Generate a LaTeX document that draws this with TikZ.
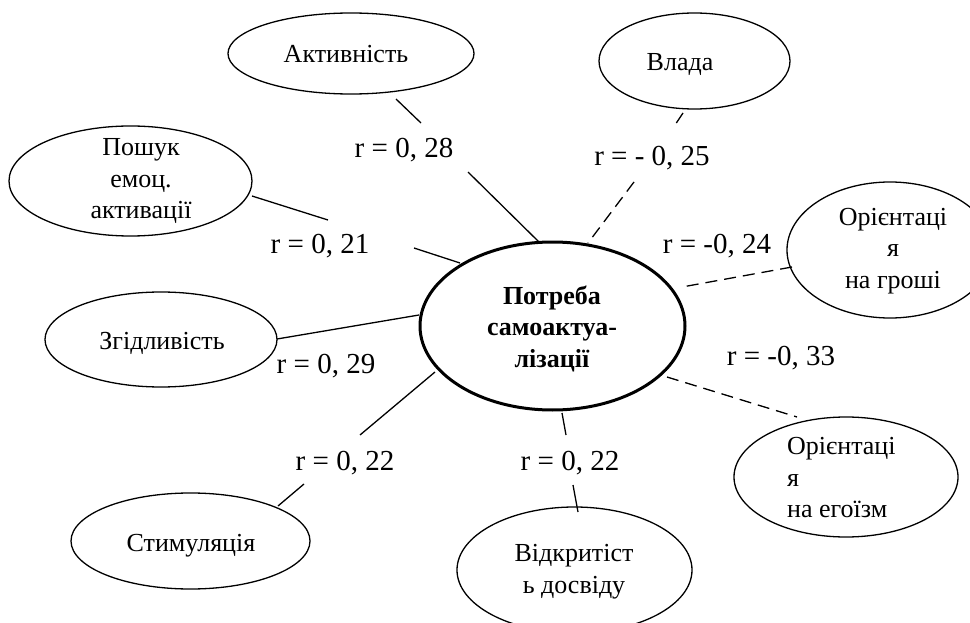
\documentclass[tikz,border=0pt]{standalone}
\usepackage{fontspec}
\setmainfont{Liberation Serif}
\usetikzlibrary{shapes.geometric}
\begin{document}
\begin{tikzpicture}[x=1pt,y=-1pt,
  oval/.style={draw, ellipse, line width=1.3pt, inner sep=0pt},
  txt/.style={inner sep=0pt, font=\fontsize{26}{31.5}\selectfont, align=center},
  lbl/.style={inner sep=0pt, font=\fontsize{29}{34}\selectfont, anchor=base},
  conn/.style={line width=1.3pt},
  dconn/.style={line width=1.3pt, dash pattern=on 12pt off 7pt}]
\useasboundingbox (0,0) rectangle (970,623);
% ellipses
\node[oval, minimum width=246pt, minimum height=81pt] (akt) at (351,53.5) {};
\node[oval, minimum width=243pt, minimum height=110pt] (posh) at (130.5,181) {};
\node[oval, minimum width=191pt, minimum height=96pt] (vlada) at (694.5,61) {};
\node[oval, minimum width=206pt, minimum height=136pt] (groshi) at (890,250) {};
\node[oval, minimum width=232pt, minimum height=95pt] (zgid) at (161,339.5) {};
\node[oval, minimum width=239pt, minimum height=96pt] (stym) at (190.5,541) {};
\node[oval, line width=3pt, minimum width=265pt, minimum height=168pt] (centr) at (552.5,326) {};
\node[oval, minimum width=235pt, minimum height=126pt] (vidkr) at (574.5,570) {};
\node[oval, minimum width=224pt, minimum height=120pt] (egoizm) at (846,477) {};
% texts
\node[txt, anchor=base] (takt) at (346,63) {Активність};
\node[txt] (tposh) at (141,181.5) {Пошук\\емоц.\\активації};
\node[txt, anchor=base] (tvlada) at (680,71) {Влада};
\node[txt] (tgroshi) at (893,251) {Орієнтаці\\я\\на гроші};
\node[txt, anchor=base] (tzgid) at (162,349) {Згідливість};
\node[txt, anchor=base] (tstym) at (191,551) {Стимуляція};
\node[txt, font=\fontsize{26}{31.5}\selectfont\bfseries] (tcentr) at (552,328.5) {Потреба\\самоактуа-\\лізації};
\node[txt] (tvidkr) at (574,571.5) {Відкритіст\\ь досвіду};
\node[txt, align=left, anchor=west] (tegoizm) at (787,478) {Орієнтаці\\я\\на егоїзм};
% labels
\node[lbl] (l28) at (404,158) {r = 0, 28};
\node[lbl] (l21) at (320,254) {r = 0, 21};
\node[lbl] (l25) at (652,166) {r = - 0, 25};
\node[lbl] (l24) at (717,253) {r = -0, 24};
\node[lbl] (l29) at (326,373) {r = 0, 29};
\node[lbl] (l22a) at (345,470) {r = 0, 22};
\node[lbl] (l33) at (781,365) {r = -0, 33};
\node[lbl] (l22b) at (570,470) {r = 0, 22};
% connector end points
\coordinate (a1) at (396,99);  \coordinate (a2) at (421,123);
\coordinate (a3) at (468,172); \coordinate (a4) at (540,243);
\coordinate (p1) at (252,196); \coordinate (p2) at (328,220);
\coordinate (p3) at (414,248); \coordinate (p4) at (460,263);
\coordinate (v1) at (683,113); \coordinate (v2) at (675,125);
\coordinate (v3) at (634,182); \coordinate (v4) at (588,243);
\coordinate (g1) at (792,267); \coordinate (g2) at (682,287);
\coordinate (z1) at (277,339); \coordinate (z2) at (419,315);
\coordinate (s1) at (435,372); \coordinate (s2) at (360,435);
\coordinate (s3) at (304,484); \coordinate (s4) at (278,506);
\coordinate (o1) at (562,413); \coordinate (o2) at (566,435);
\coordinate (o3) at (573,485); \coordinate (o4) at (578,512);
\coordinate (e1) at (667,377); \coordinate (e2) at (797,417);
% connectors
\draw[conn] (a1) -- (a2); \draw[conn] (a3) -- (a4);
\draw[conn] (p1) -- (p2); \draw[conn] (p3) -- (p4);
\draw[dconn] (v1) -- (v2); \draw[dconn] (v3) -- (v4);
\draw[dconn] (g1) -- (g2);
\draw[conn] (z1) -- (z2);
\draw[conn] (s1) -- (s2); \draw[conn] (s3) -- (s4);
\draw[conn] (o1) -- (o2); \draw[conn] (o3) -- (o4);
\draw[dconn] (e1) -- (e2);
\end{tikzpicture}
\end{document}
